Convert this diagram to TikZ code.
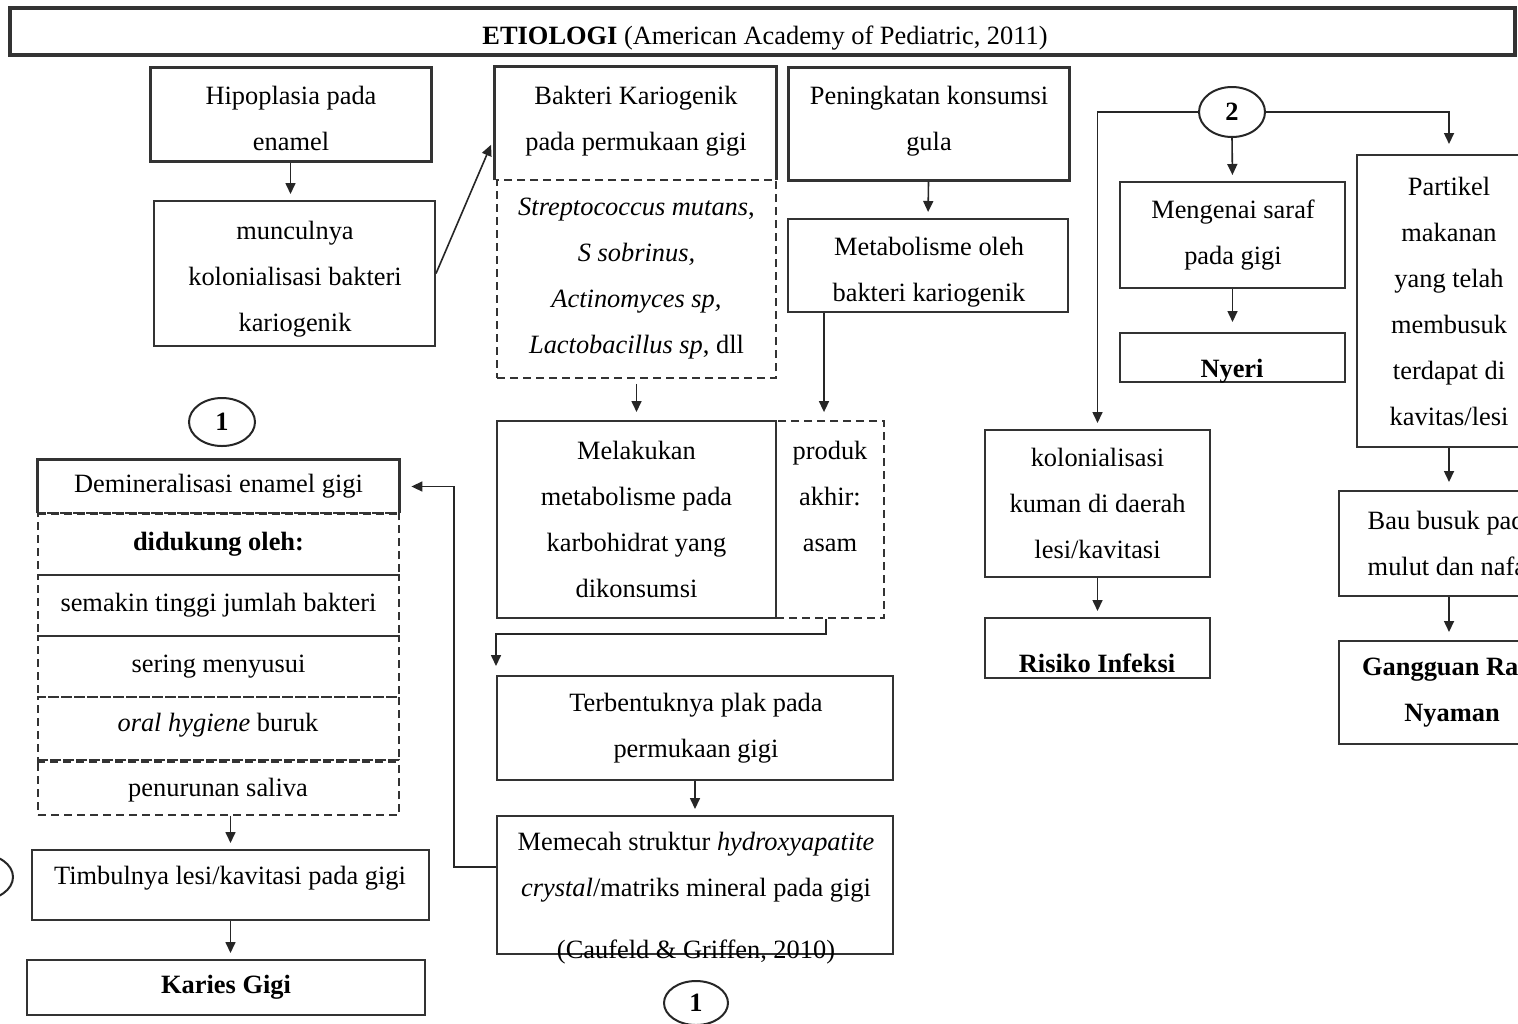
\documentclass[tikz,border=0pt]{standalone}
\usepackage{fontspec}
\setmainfont{Liberation Serif}
\usetikzlibrary{arrows.meta,shapes.geometric}

\tikzset{
  % place a node by its left, top, right and bottom edges (picture units)
  span/.style args={#1/#2/#3/#4}{at={({(#1+#3)/2},{(#2+#4)/2})},
    minimum width={(#3-#1)*0.5pt}, minimum height={(#4-#2)*0.5pt}},
  txt/.style={font=\fontsize{13.2}{23}\selectfont, align=center, inner sep=0pt, text=black},
  bx/.style={draw=black!80, line width=1pt, inner sep=0pt, txt},
  bxk/.style={bx, line width=1.5pt},
  dsh/.style={draw=black!80, line width=0.9pt, inner sep=0pt, dash pattern=on 4pt off 2.5pt},
  dshk/.style={dsh, line width=1.6pt},
  arr/.style={draw=black!85, line width=0.8pt, -{Triangle[length=5.5pt,width=5pt]}, shorten >=3pt},
  conn/.style={ellipse, draw=black!85, line width=1pt, inner sep=0pt,
    minimum width=33pt, minimum height=24pt, font=\fontsize{13.2}{16}\selectfont\bfseries}
}

\begin{document}
\begin{tikzpicture}[x=0.5pt, y=-0.5pt]
  \clip (0,0) rectangle (1518,1023);
  \fill[white] (0,0) rectangle (1518,1023);

  % heading
  \node[bxk, line width=1.8pt, span=10/8/1515/55] (title) {};
  \node[txt] (titleT) at (765,38) {\textbf{ETIOLOGI} (American Academy of Pediatric, 2011)};

  % left upper chain
  \node[bxk, span=150/67/431/161] (hip) {};
  \node[txt] (hipT) at (291,118) {Hipoplasia pada\\enamel};
  \node[bx, span=154/201/435/346] (mun) {};
  \node[txt] (munT) at (295,279) {munculnya\\kolonialisasi bakteri\\kariogenik};

  % cariogenic bacteria
  \node[dsh, txt, span=497/180/776/378] (spp)
    {\textit{Streptococcus mutans},\\\textit{S sobrinus,}\\\textit{Actinomyces sp,}\\\textit{Lactobacillus sp}, dll};
  \node[txt, span=495/67/776/180] (bak) {};
  \node[txt] (bakT) at (636,121) {Bakteri Kariogenik\\pada permukaan gigi};
  \draw[black!80, line width=1.5pt] (bak.south west) |- (bak.north east) -- (bak.south east);

  % sugar intake
  \node[bxk, span=788/67/1069/180] (pen) {};
  \node[txt] (penT) at (929,121) {Peningkatan konsumsi\\gula};
  \node[bx, span=788/219/1068/312] (met) {};
  \node[txt] (metT) at (929,272) {Metabolisme oleh\\bakteri kariogenik};

  % metabolism and acid
  \node[dsh, span=776/421/884/618] (prod) {};
  \node[txt] (prodT) at (830,496) {produk\\akhir:\\asam};
  \node[bx, span=497/421/776/618] (mel) {Melakukan\\metabolisme pada\\karbohidrat yang\\dikonsumsi};

  % plaque and breakdown
  \node[bx, span=497/676/893/780] (ter) {};
  \node[txt] (terT) at (696,728) {Terbentuknya plak pada\\permukaan gigi};
  \node[bx, span=497/816/893/954] (mem) {};
  \node[txt] (memT) at (696,867)
    {Memecah struktur \textit{hydroxyapatite}\\\textit{crystal}/matriks mineral pada gigi};
  \node[txt] (cit) at (696,952) {(Caufeld \& Griffen, 2010)};
  \node[conn, minimum width=32pt, minimum height=22pt] (c1b) at (696,1003) {1};

  % demineralisation and supporting factors
  \node[conn] (c1a) at (222,422) {1};
  \node[txt, span=38/460/399/513] (dem) {Demineralisasi enamel gigi};
  \draw[black!80, line width=1.4pt] (dem.south west) |- (dem.north east) -- (dem.south east);
  \node[dsh, txt, span=38/513/399/575] (r1) {\textbf{didukung oleh:}};
  \node[dsh, txt, span=38/575/399/636] (r2) {semakin tinggi jumlah bakteri};
  \node[dsh, txt, span=38/636/399/697] (r3) {sering menyusui};
  \node[dsh, span=38/697/399/760] (r4) {};
  \node[txt] (r4T) at (218,725) {\textit{oral hygiene} buruk};
  \node[dsh, span=38/760/399/815] (r5) {};
  \node[txt] (r5T) at (218,790) {penurunan saliva};
  \draw[dshk] (dem.south west) -- (dem.south east);
  \draw[dshk] (r4.south west) -- (r4.south east);

  \node[bx, span=32/850/429/920] (tim) {};
  \node[txt] (timT) at (230,878) {Timbulnya lesi/kavitasi pada gigi};
  \node[bx, span=27/960/425/1015] (kar) {\textbf{Karies Gigi}};
  \node[conn, minimum width=33pt, minimum height=23pt] (c2l) at (-20,877) {};

  % consequences
  \node[conn, minimum height=25pt] (c2) at (1232,112) {2};
  \node[bx, span=1120/182/1345/288] (men) {};
  \node[txt] (menT) at (1233,235) {Mengenai saraf\\pada gigi};
  \node[bx, span=1120/333/1345/382] (nye) {};
  \node[txt] (nyeT) at (1232,371) {\textbf{Nyeri}};
  \node[bx, span=985/430/1210/577] (kol) {kolonialisasi\\kuman di daerah\\lesi/kavitasi};
  \node[bx, span=985/618/1210/678] (ris) {};
  \node[txt] (risT) at (1097,663) {\textbf{Risiko Infeksi}};
  \node[bx, span=1357/155/1541/447] (par)
    {Partikel\\makanan\\yang telah\\membusuk\\terdapat di\\kavitas/lesi};
  \node[bx, span=1339/491/1565/596] (bau) {Bau busuk pada\\mulut dan nafas};
  \node[bx, span=1339/641/1565/744] (gan) {};
  \node[txt] (ganT) at (1452,693) {\textbf{Gangguan Rasa}\\\textbf{Nyaman}};

  % connectors
  \draw[arr] (hip.south) -- (hip.south |- mun.north);
  \draw[arr, shorten >=4.5pt] (mun.east) -- ([yshift=-6.5pt]bak.west);
  \draw[arr, shorten <=2.5pt, shorten >=4pt] (spp.south) -- (mel.north);
  \draw[arr] (pen.south) -- (met.north);
  \draw[arr, shorten >=4pt] ([xshift=-3pt]prod.north |- met.south) -- ([xshift=-3pt]prod.north);
  \draw[arr, shorten >=4.5pt] ([xshift=-2pt]prod.south) -- ++(0,15) -| (ter.north west);
  \draw[arr] (ter.south) -- (mem.north);
  \draw[arr, shorten >=6pt] (mem.west |- memT.center) -- ++(-42,0) |- (dem.east);
  \draw[arr] (r5.south -| tim.north) -- (tim.north);
  \draw[arr] (tim.south) -- (tim.south |- kar.north);

  \draw[arr] (c2.west) -| (kol.north);
  \draw[arr, shorten >=5pt] (c2.east) -| (par.north);
  \draw[arr] (c2.south) -- (men.north);
  \draw[arr, shorten >=5pt] (men.south) -- (nye.north);
  \draw[arr] (kol.south) -- (ris.north);
  \draw[arr, shorten >=4pt] (par.south) -- (par.south |- bau.north);
  \draw[arr, shorten >=4pt] (bau.south -| par.south) -- (par.south |- gan.north);
\end{tikzpicture}
\end{document}
